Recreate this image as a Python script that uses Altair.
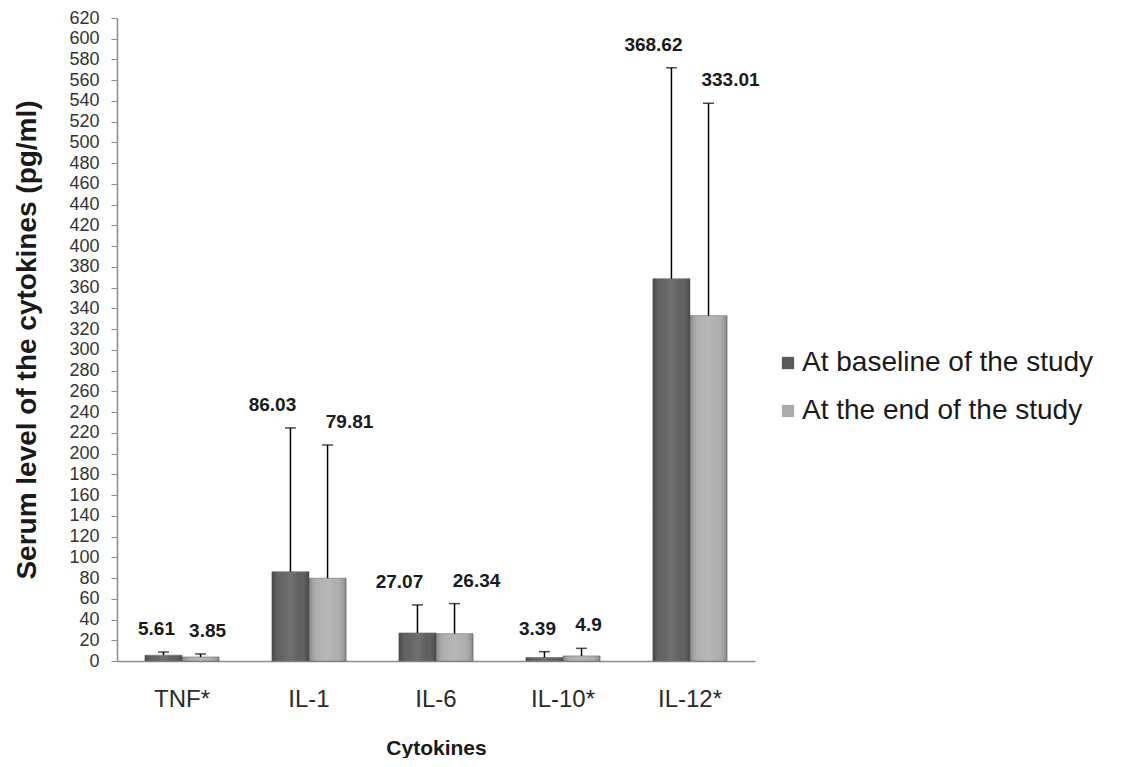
import altair as alt
import pandas as pd

# ---- data ----
categories = ["TNF*", "IL-1", "IL-6", "IL-10*", "IL-12*"]
series_names = ["At baseline of the study", "At the end of the study"]
baseline_mean = [5.61, 86.03, 27.07, 3.39, 368.62]
end_mean = [3.85, 79.81, 26.34, 4.9, 333.01]
baseline_sd = [3.0, 138.7, 27.0, 5.6, 203.4]
end_sd = [2.9, 128.5, 29.0, 7.3, 204.8]
y_ticks = list(range(0, 621, 20))

rows = []
for i, c in enumerate(categories):
    rows.append(dict(cat=c, series=series_names[0], value=baseline_mean[i],
                     sd=baseline_sd[i], label=f"{baseline_mean[i]:g}"))
    rows.append(dict(cat=c, series=series_names[1], value=end_mean[i],
                     sd=end_sd[i], label=f"{end_mean[i]:g}"))
df = pd.DataFrame(rows)
df["top"] = df["value"] + df["sd"]

FONT = "Liberation Sans"

x_scale = alt.Scale(paddingInner=0.416, paddingOuter=0.22)
x_axis = alt.Axis(title="Cytokines", labelAngle=0, ticks=False,
                  labelFont=FONT, labelFontSize=24, labelColor="#2b2b2b",
                  labelPadding=26, domainColor="#8c8c8c", domainWidth=1.5,
                  titleFont=FONT, titleFontSize=21, titleFontWeight="bold",
                  titleColor="#1a1a1a", titlePadding=26)
y_scale = alt.Scale(domain=[0, 620], nice=False)
y_axis = alt.Axis(title="Serum level of the cytokines (pg/ml)", values=y_ticks,
                  grid=False, labelOverlap=False, labelFont=FONT,
                  labelFontSize=18, labelColor="#333333", tickColor="#8c8c8c",
                  tickSize=6, labelPadding=12, domainColor="#8c8c8c",
                  domainWidth=1.5, titleFont=FONT, titleFontSize=28,
                  titleFontWeight="bold", titleColor="#1a1a1a",
                  titlePadding=27)

x_enc = alt.X("cat:N", sort=categories, scale=x_scale, axis=x_axis)
xoff = alt.XOffset("series:N", sort=series_names,
                   scale=alt.Scale(paddingInner=0, paddingOuter=0))


def yq(field):
    return alt.Y(f"{field}:Q", scale=y_scale, axis=y_axis,
                 title="Serum level of the cytokines (pg/ml)")


base = alt.Chart(df)

bars = base.mark_bar(stroke="#6a6a6a", strokeWidth=0.6).encode(
    x=x_enc, xOffset=xoff, y=yq("value"),
    color=alt.Color("series:N", sort=series_names,
                    scale=alt.Scale(domain=series_names,
                                    range=["#595959", "#ababab"]),
                    legend=alt.Legend(title=None)),
)

shade = base.mark_bar(
    fill=alt.Gradient(
        gradient="linear", x1=0, x2=1, y1=0, y2=0,
        stops=[
            alt.GradientStop(offset=0, color="rgba(0,0,0,0.22)"),
            alt.GradientStop(offset=0.25, color="rgba(255,255,255,0.06)"),
            alt.GradientStop(offset=0.5, color="rgba(255,255,255,0.14)"),
            alt.GradientStop(offset=0.75, color="rgba(255,255,255,0.04)"),
            alt.GradientStop(offset=1, color="rgba(0,0,0,0.22)"),
        ],
    )
).encode(x=x_enc, xOffset=xoff, y=yq("value"))

err = base.mark_rule(color="#000000", strokeWidth=1.5).encode(
    x=x_enc, xOffset=xoff, y=yq("value"), y2="top:Q")

caps = base.mark_tick(color="#000000", thickness=1.5, size=11).encode(
    x=x_enc, xOffset=xoff, y=yq("top"))

wide = ["IL-1", "IL-6", "IL-12*"]
narrow = ["TNF*", "IL-10*"]


def labels(cats, series, dx):
    return base.transform_filter(
        alt.FieldOneOfPredicate(field="cat", oneOf=cats)
    ).transform_filter(
        alt.datum.series == series
    ).mark_text(font=FONT, fontSize=19, fontWeight="bold", color="#1a1a1a",
                dy=-23, dx=dx).encode(
        x=x_enc, xOffset=xoff, y=yq("top"), text="label:N")


chart = alt.layer(
    bars, shade, err, caps,
    labels(wide, series_names[0], -18), labels(wide, series_names[1], 22),
    labels(narrow, series_names[0], -7), labels(narrow, series_names[1], 7),
).properties(
    width=638, height=643,
    padding={"left": 5, "top": 1, "right": 5, "bottom": 0},
).configure_view(stroke=None).configure_axisY(
    labelOverlap=False
).configure_legend(
    orient="none", legendX=657, legendY=331,
    symbolType="square", symbolSize=150, symbolStrokeWidth=0,
    labelFont=FONT, labelFontSize=28, labelColor="#1a1a1a",
    labelOffset=0, rowPadding=20, labelLimit=400,
)

chart.save("out.html", embed_options={"renderer": "svg", "actions": False})
